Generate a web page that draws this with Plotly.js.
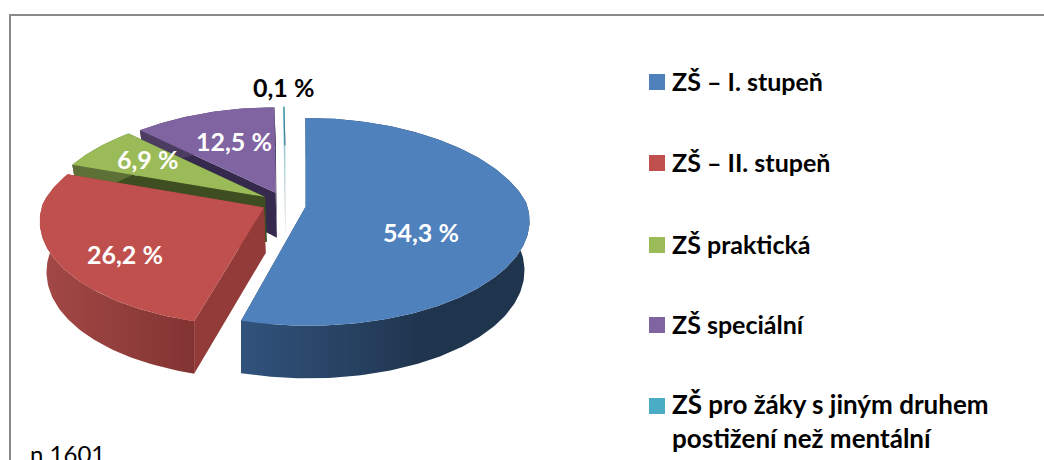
<!DOCTYPE html>
<html>
<head>
<meta charset="utf-8">
<script src="https://cdn.plot.ly/plotly-3.0.1.min.js"></script>
<style>html,body{margin:0;padding:0;background:#fff;overflow:hidden}#chart{width:1044px;height:460px}</style>
</head>
<body>
<div id="chart"></div>
<script>
// ---- data ----
const categories = ["ZŠ – I. stupeň", "ZŠ – II. stupeň", "ZŠ praktická", "ZŠ speciální", "ZŠ pro žáky s jiným druhem<br>postižení než mentální"];
const values = [54.3, 26.2, 6.9, 12.5, 0.1];
const sampleNote = "n 1601";

// ---- styles ----
const topColors = ["#4f81bd", "#c0504d", "#9bbb59", "#8064a2", "#4bacc6"];
const wallColors = ["#1f344d", "#933b38", "#3f4e20", "#352a4d", "#c9d6da"];
const arcGradients = [["#31527b", "#1f344d"], ["#a34947", "#823432"], ["#5d7035", "#5d7035"], ["#4c3c61", "#4c3c61"], ["#2b6676", "#2b6676"]];
const arcStops = [[245, 430], [40, 195], [70, 130], [140, 276], [280, 290]];
const labelAnchors = [[421, 232], [125, 254], [147, 159], [234, 141], [283, 87]];
const labelColors = ["#fff", "#fff", "#fff", "#fff", "#000"];
const legendY = [82, 163, 245, 325, 406];
const legendTextY = [81, 162, 244, 324, 421];
const legendSizes = [25, 25, 25, 25, 26];

// ---- projection of the tilted pie onto axis coordinates ----
const camX = 284.5, cy = 202.5, a = 221, b = 102, depth = 45.5, bottomShrink = 0.03, bottomPivot = 320, pull = 0.104;
const pxBack = 0.2, pxFront = 0.12, pyBack = 0.16, pyFront = 0.13;
const pullDirOverride = {0: 115};
const total = values.reduce((s, v) => s + v, 0);
const rad = d => d * Math.PI / 180;
function proj(deg, mid, r, low) {
  const Xr = r * Math.sin(rad(deg)), Xp = pull * Math.sin(rad(mid));
  const Y = r * Math.cos(rad(deg)) + pull * Math.cos(rad(mid));
  const fx = 1 / (1 + (Y > 0 ? pxBack : pxFront) * Y), fy = 1 / (1 + (Y > 0 ? pyBack : pyFront) * Y);
  let x = camX + a * (Xr * fx + Xp * (Y > 0 ? 1 : fx));
  if (low) x = x - (x - bottomPivot) * bottomShrink * Math.max(0, Math.min(1, 1 + Y));
  return [x, cy - b * Y * fy + (low ? depth * fy : 0)];
}
function poly(points, color, name, grad) {
  const t = {
    type: "scatter", mode: "lines", fill: "toself", name: name, hoverinfo: "name", showlegend: false,
    x: points.map(p => p[0]), y: points.map(p => p[1]), line: {width: 0, color: color}, fillcolor: color
  };
  if (grad) {
    t.fillgradient = {type: "horizontal", start: grad.start, stop: grad.stop,
      colorscale: [[0, grad.c[0]], [1, grad.c[1]]]};
  }
  return t;
}

const slices = [];
let acc = 0;
values.forEach((v, i) => {
  const from = acc / total * 360, to = (acc + v) / total * 360;
  slices.push({i, from, to, mid: i in pullDirOverride ? pullDirOverride[i] : (from + to) / 2});
  acc += v;
});

const traces = [];
// paint from the back of the pie to the front
[3, 2, 4, 1, 0].forEach(i => {
  const s = slices[i], name = categories[i].replace("<br>", " ");
  const arcTop = [], arcLow = [];
  const n = Math.max(2, Math.ceil(s.to - s.from));
  for (let k = 0; k <= n; k++) {
    const d = s.from + (s.to - s.from) * k / n;
    arcTop.push(proj(d, s.mid, 1, false));
    arcLow.push(proj(d, s.mid, 1, true));
  }
  const cTop = proj(0, s.mid, 0, false), cLow = proj(0, s.mid, 0, true);
  traces.push(poly([cTop, arcTop[0], arcLow[0], cLow, cTop], wallColors[i], name));
  traces.push(poly([cTop, arcTop[n], arcLow[n], cLow, cTop], wallColors[i], name));
  traces.push(poly(arcTop.concat(arcLow.slice().reverse()).concat([arcTop[0]]), arcGradients[i][0], name,
    {start: arcStops[i][0], stop: arcStops[i][1], c: arcGradients[i]}));
  traces.push(poly([cTop].concat(arcTop).concat([cTop]), topColors[i], name));
});

// legend keys
traces.push({
  type: "scatter", mode: "markers", x: values.map(() => 657), y: legendY, hoverinfo: "skip", showlegend: false,
  marker: {symbol: "square", size: 16, color: topColors, line: {width: 0}}
});

const fontBold = "Lato, 'Open Sans', sans-serif";
const annotations = [];
values.forEach((v, i) => {
  annotations.push({
    x: labelAnchors[i][0], y: labelAnchors[i][1], xref: "x", yref: "y", showarrow: false,
    text: "<b>" + v.toFixed(1).replace(".", ",") + " %</b>",
    font: {family: fontBold, size: 25, color: labelColors[i]}, xanchor: "center", yanchor: "middle"
  });
  annotations.push({
    x: 670, y: legendTextY[i], xref: "x", yref: "y", showarrow: false, align: "left",
    text: "<b>" + categories[i].replace("<br>", "</b><br><b>") + "</b>",
    font: {family: fontBold, size: legendSizes[i], color: "#000"}, xanchor: "left", yanchor: "middle"
  });
});
annotations.push({
  x: 28, y: 453, xref: "x", yref: "y", showarrow: false, text: sampleNote,
  font: {family: fontBold, size: 24, color: "#000"}, xanchor: "left", yanchor: "middle"
});

Plotly.newPlot("chart", traces, {
  width: 1044, height: 460, margin: {l: 0, r: 0, t: 0, b: 0},
  paper_bgcolor: "#fff", plot_bgcolor: "#fff", showlegend: false,
  xaxis: {range: [0, 1044], visible: false, fixedrange: true},
  yaxis: {range: [460, 0], visible: false, fixedrange: true},
  annotations: annotations,
  shapes: [
    {type: "line", xref: "x", yref: "y", x0: 10, x1: 1044, y0: 15, y1: 15, line: {color: "#8a8a8a", width: 2}},
    {type: "line", xref: "x", yref: "y", x0: 10, x1: 10, y0: 14, y1: 460, line: {color: "#8a8a8a", width: 2}}
  ]
}, {displayModeBar: false, staticPlot: true});
</script>
</body>
</html>
